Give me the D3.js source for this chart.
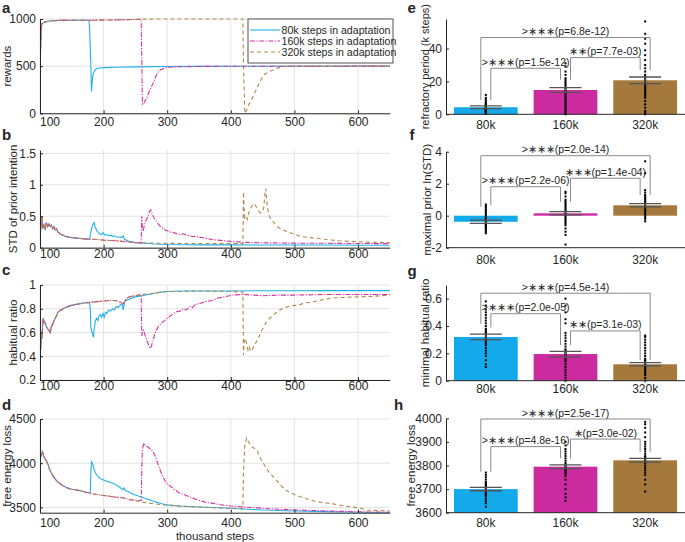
<!DOCTYPE html>
<html><head><meta charset="utf-8">
<script src="https://cdn.jsdelivr.net/npm/d3@7"></script>
<style>
body{margin:0;background:#fff;}
svg text{font-family:"Liberation Sans",Arial,sans-serif;fill:#262626;}
</style></head>
<body><svg id="c" width="685" height="542"></svg>
<script>
// ---------- DATA ----------
const stepTicks = [100,200,300,400,500,600];
const seriesNames = ["80k steps in adaptation","160k steps in adaptation","320k steps in adaptation"];
const groups = ["80k","160k","320k"];

// shared early part of each curve (thousand steps, value)
const rewardsStart = [[100,390],[101,700],[102,900],[103,950],[105,960],[108,968],[110,972],[115,978],[120,982],[130,985],[150,986],[170,987]];
const rewards80k = [[177,987],[178,900],[180,500],[181,229],[182,330],[183,400],[185,440],[187,465],[190,476],[195,480],[200,484],[220,488],[250,492],[300,496],[350,498],[400,499],[650,500]];
const rewards160k = [[200,988],[230,992],[250,995],[259,996],[260,600],[261,95],[263,105],[265,130],[268,165],[271,220],[275,280],[278,318],[282,390],[286,440],[289,459],[295,478],[300,488],[320,493],[350,497],[400,499],[650,500]];
const rewards320k = [[200,988],[230,992],[250,996],[270,999],[300,1000],[419,1000],[420,500],[422,0],[424,20],[427,70],[431,130],[435,176],[440,250],[444,310],[448,360],[451,406],[456,425],[461,445],[467,460],[472,475],[477,487],[482,495],[490,499],[500,500],[650,500]];

const stdStart = [[100,0.18],[101,0.3],[102,0.45],[103,0.5],[104,0.3],[106,0.36],[108,0.3],[110,0.4],[112,0.33],[114,0.38],[116,0.34],[118,0.36],[120,0.3],[122,0.33],[124,0.28],[126,0.3],[128,0.25],[130,0.24],[133,0.21],[136,0.2],[140,0.18],[145,0.17],[150,0.16],[160,0.15],[170,0.14]];
const std80k = [[178,0.135],[179,0.2],[181,0.3],[183,0.36],[185,0.4],[187,0.32],[190,0.26],[194,0.22],[197,0.21],[199,0.24],[202,0.2],[205,0.21],[208,0.19],[211,0.2],[214,0.18],[217,0.19],[220,0.17],[224,0.17],[228,0.16],[231,0.19],[233,0.13],[236,0.12],[240,0.1],[246,0.09],[250,0.08],[260,0.07],[268,0.07],[280,0.06],[300,0.05],[350,0.045],[400,0.045],[500,0.042],[650,0.04]];
const std160k = [[180,0.135],[190,0.13],[200,0.12],[210,0.115],[220,0.11],[230,0.1],[240,0.09],[250,0.08],[259,0.075],[260,0.5],[261,0.3],[262,0.26],[264,0.35],[266,0.42],[268,0.46],[270,0.5],[272,0.57],[274,0.6],[276,0.55],[278,0.5],[280,0.46],[283,0.42],[286,0.38],[290,0.33],[295,0.29],[300,0.27],[305,0.25],[310,0.24],[315,0.22],[320,0.21],[325,0.22],[330,0.2],[340,0.18],[350,0.17],[360,0.15],[370,0.13],[380,0.12],[390,0.11],[400,0.1],[420,0.085],[450,0.078],[500,0.072],[550,0.07],[600,0.066],[650,0.065]];
const std320k = [[180,0.135],[190,0.13],[200,0.12],[210,0.115],[220,0.11],[230,0.1],[240,0.09],[250,0.08],[270,0.075],[300,0.07],[350,0.065],[400,0.065],[419,0.065],[420,0.89],[421,0.6],[422,0.47],[424,0.5],[426,0.45],[428,0.55],[430,0.6],[433,0.66],[436,0.7],[438,0.68],[441,0.64],[444,0.58],[447,0.55],[450,0.58],[452,0.65],[454,0.9],[455,0.94],[456,0.8],[458,0.62],[460,0.52],[463,0.45],[467,0.41],[470,0.37],[475,0.32],[480,0.29],[485,0.27],[493,0.24],[500,0.21],[510,0.18],[520,0.165],[535,0.15],[550,0.13],[570,0.11],[587,0.1],[610,0.09],[630,0.085],[650,0.08]];

const habitStart = [[100,0.52],[101,0.45],[102,0.6],[103,0.55],[104,0.65],[105,0.72],[106,0.7],[108,0.68],[110,0.65],[112,0.63],[114,0.62],[116,0.6],[118,0.65],[120,0.67],[122,0.7],[124,0.72],[126,0.74],[128,0.77],[130,0.78],[133,0.79],[136,0.8],[140,0.81],[145,0.82],[150,0.83],[155,0.835],[160,0.84],[165,0.845],[170,0.85],[175,0.85]];
const habit80k = [[178,0.855],[179,0.8],[180,0.64],[182,0.6],[184,0.56],[185,0.62],[187,0.7],[189,0.72],[191,0.7],[193,0.74],[195,0.75],[197,0.73],[199,0.76],[201,0.73],[203,0.77],[205,0.76],[208,0.79],[211,0.78],[214,0.8],[217,0.79],[220,0.82],[223,0.81],[226,0.83],[229,0.84],[231,0.79],[233,0.86],[236,0.87],[240,0.88],[245,0.89],[250,0.9],[260,0.91],[270,0.92],[280,0.93],[290,0.94],[300,0.945],[320,0.95],[350,0.95],[400,0.95],[450,0.952],[500,0.952],[550,0.953],[650,0.953]];
const habit160k = [[180,0.855],[190,0.86],[200,0.865],[210,0.87],[220,0.868],[225,0.86],[228,0.85],[231,0.84],[234,0.87],[237,0.89],[240,0.9],[245,0.905],[250,0.91],[255,0.915],[259,0.92],[260,0.57],[261,0.6],[263,0.62],[265,0.58],[267,0.55],[269,0.52],[271,0.49],[273,0.466],[275,0.48],[277,0.52],[279,0.56],[281,0.6],[283,0.62],[286,0.65],[290,0.67],[293,0.69],[296,0.7],[300,0.72],[305,0.74],[310,0.76],[315,0.775],[320,0.78],[325,0.8],[330,0.79],[336,0.82],[340,0.81],[345,0.84],[350,0.84],[360,0.86],[370,0.87],[380,0.89],[390,0.9],[403,0.916],[420,0.92],[450,0.91],[480,0.915],[500,0.915],[550,0.92],[600,0.92],[650,0.92]];
const habit320k = [[180,0.855],[190,0.86],[200,0.865],[210,0.87],[220,0.868],[225,0.86],[228,0.85],[231,0.84],[234,0.87],[237,0.89],[240,0.9],[250,0.91],[260,0.92],[270,0.925],[280,0.93],[290,0.94],[300,0.945],[320,0.945],[350,0.95],[400,0.945],[419,0.94],[420,0.41],[421,0.52],[423,0.55],[425,0.5],[427,0.45],[429,0.48],[431,0.44],[433,0.45],[435,0.47],[438,0.5],[441,0.53],[444,0.56],[447,0.6],[450,0.63],[453,0.66],[456,0.69],[461,0.72],[465,0.74],[470,0.76],[477,0.79],[485,0.81],[495,0.825],[504,0.83],[515,0.845],[525,0.855],[540,0.87],[556,0.888],[575,0.895],[600,0.9],[625,0.905],[650,0.915]];

const lossStart = [[100,4150],[101,4100],[102,4080],[103,4110],[104,4130],[105,4100],[107,4060],[109,4040],[111,4010],[113,3980],[115,3930],[118,3890],[121,3850],[124,3820],[127,3795],[131,3772],[135,3750],[140,3730],[145,3715],[150,3705],[158,3696],[165,3685],[172,3672],[178,3665]];
const loss80k = [[179,3660],[180,3900],[181,4017],[183,3990],[185,3930],[188,3880],[191,3850],[194,3828],[200,3810],[205,3795],[210,3785],[215,3772],[220,3750],[225,3730],[230,3700],[232,3720],[234,3690],[240,3675],[245,3655],[250,3640],[260,3615],[273,3583],[280,3565],[290,3545],[299,3528],[320,3515],[350,3505],[400,3490],[450,3470],[500,3460],[550,3452],[600,3445],[650,3438]];
const loss160k = [[180,3655],[190,3645],[200,3635],[210,3625],[220,3615],[230,3610],[235,3600],[240,3590],[250,3580],[259,3575],[260,3900],[261,4150],[263,4225],[266,4200],[270,4180],[275,4150],[278,4130],[281,4080],[285,4000],[290,3900],[295,3820],[299,3772],[305,3740],[310,3710],[315,3685],[320,3659],[325,3650],[330,3635],[340,3605],[352,3575],[360,3560],[370,3548],[380,3535],[390,3525],[400,3515],[420,3505],[440,3495],[460,3485],[480,3478],[500,3472],[550,3460],[600,3450],[650,3445]];
const loss320k = [[180,3655],[190,3645],[200,3635],[210,3625],[220,3615],[230,3610],[235,3600],[240,3590],[250,3575],[260,3560],[280,3540],[300,3525],[330,3510],[360,3500],[400,3490],[419,3485],[420,3900],[422,4200],[425,4285],[428,4240],[431,4200],[434,4180],[437,4170],[441,4149],[444,4100],[447,4050],[451,4000],[456,3942],[460,3900],[465,3860],[470,3820],[475,3780],[479,3745],[483,3715],[490,3680],[500,3645],[509,3620],[520,3595],[530,3575],[540,3560],[550,3550],[561,3540],[580,3515],[600,3495],[614,3470],[630,3465],[650,3460]];

// y tick values of the left panels
const rewardsTicks = [0,500,1000];
const stdTicks = [0,0.5,1,1.5];
const habitTicks = [0.2,0.4,0.6,0.8,1];
const lossTicks = [3500,4000,4500];

// bar panels: mean, sem, individual runs
const refractMean = [4.3,14.8,20.7], refractSem = [0.8,1.4,2.0];
const refract80k = [0.3,0.8,1.2,1.5,1.8,2,2.3,2.5,2.8,3,3.2,3.5,3.8,4,4.2,4.5,4.8,5,5.5,6,6.5,7,8,9,10,11.8];
const refract160k = [0,0.5,1,2,3,4,5,6,7,8,9,10,11,12,13,14,15,16,17,18,19,20,21,22,24,26,29,31];
const refract320k = [0,1,2,4,6,8,10,11,12,13,14,15,16,17,18,19,20,21,22,23,24,26,28,30,33,36,39,43,46,49,56.5];
const refractTicks = [0,20,40];
const refractSig = [">∗∗∗(p=1.5e-12)","∗∗(p=7.7e-03)",">∗∗∗(p=6.8e-12)"];

const priorMean = [-0.38,0.15,0.65], priorSem = [0.1,0.1,0.1];
const prior80k = [-1.1,-1.0,-0.9,-0.8,-0.75,-0.7,-0.6,-0.55,-0.5,-0.45,-0.4,-0.35,-0.3,-0.25,-0.2,-0.15,-0.1,0,0.1,0.2,0.3,0.4,0.5,0.6,0.7];
const prior160k = [-1.8,-1.2,-1.0,-0.8,-0.6,-0.5,-0.4,-0.3,-0.2,-0.1,0,0.1,0.2,0.3,0.4,0.5,0.6,0.7,0.8,0.9,1.0,1.2,1.4,1.5];
const prior320k = [-0.35,-0.2,-0.1,0,0.1,0.2,0.3,0.4,0.5,0.6,0.7,0.8,0.9,1.0,1.1,1.2,1.3,1.45,1.6,2.65,3.4];
const priorTicks = [-2,0,2,4];
const priorSig = [">∗∗∗(p=2.2e-06)","∗∗∗(p=1.4e-04)",">∗∗∗(p=2.0e-14)"];

const minHabitMean = [0.32,0.195,0.12], minHabitSem = [0.02,0.02,0.012];
const minHabit80k = [0.1,0.12,0.15,0.18,0.2,0.22,0.24,0.26,0.27,0.28,0.29,0.3,0.31,0.32,0.33,0.34,0.35,0.36,0.37,0.38,0.4,0.42,0.44,0.46,0.48,0.5,0.52,0.55,0.58];
const minHabit160k = [0,0.02,0.04,0.06,0.08,0.1,0.12,0.14,0.15,0.16,0.18,0.19,0.2,0.21,0.22,0.23,0.25,0.27,0.29,0.31,0.33,0.35,0.42,0.45,0.5,0.55,0.6];
const minHabit320k = [0,0.02,0.04,0.05,0.06,0.07,0.08,0.09,0.1,0.11,0.12,0.13,0.14,0.15,0.16,0.18,0.2,0.22,0.24,0.26,0.28,0.3,0.32,0.33];
const minHabitTicks = [0,0.2,0.4,0.6];
const minHabitSig = [">∗∗∗(p=2.0e-05)","∗∗(p=3.1e-03)",">∗∗∗(p=4.5e-14)"];

const felMean = [3700,3795,3822], felSem = [7,8,8];
const fel80k = [3625,3640,3650,3660,3670,3675,3680,3685,3690,3695,3700,3705,3710,3715,3720,3725,3730,3740,3750,3760,3770];
const fel160k = [3650,3665,3680,3700,3720,3740,3755,3765,3770,3775,3780,3785,3790,3795,3800,3805,3810,3820,3830,3840,3850,3860,3870,3885,3900];
const fel320k = [3690,3720,3740,3760,3770,3780,3790,3800,3810,3815,3820,3825,3830,3835,3840,3850,3860,3870,3880,3890,3900,3920,3940,3960,3975,3985];
const felTicks = [3600,3700,3800,3900,4000];
const felSig = [">∗∗∗(p=4.8e-16)","∗(p=3.0e-02)",">∗∗∗(p=2.5e-17)"];

// ---------- STYLE / LAYOUT ----------
const lineColors = ["#1fb1ef","#d6329f","#b3874a"];
const lineDash = [null,"5,1.5,1.2,1.5","4,3"];
const barColors = ["#14a9ea","#cb2b9f","#a5783b"];
const AX = "#262626", GRID = "#e3e3e3", BR = "#8a8a8a";
const svg = d3.select("#c");
const x = d3.scaleLinear().domain([100,650]).range([40,389.8]);

const leftPanels = [
  {letter:"a", ly:13, top:19, bottom:113.3, domain:[0,1000], ticks:rewardsTicks, label:"rewards", labX:7,
   start:rewardsStart, series:[rewards80k,rewards160k,rewards320k], xl:126.5},
  {letter:"b", ly:140, top:150.2, bottom:247.7, domain:[0,1.55], ticks:stdTicks, label:"STD of prior intention", labX:13,
   start:stdStart, series:[std80k,std160k,std320k], xl:258},
  {letter:"c", ly:275, top:285, bottom:380, domain:[0.2,1], ticks:habitTicks, label:"habitual ratio", labX:13,
   start:habitStart, series:[habit80k,habit160k,habit320k], xl:389.5},
  {letter:"d", ly:410, top:419, bottom:512.7, domain:[3440,4500], ticks:lossTicks, label:"free energy loss", labX:7,
   start:lossStart, series:[loss80k,loss160k,loss320k], xl:527}
];

leftPanels.forEach((p,pi)=>{
  const y = d3.scaleLinear().domain(p.domain).range([p.bottom,p.top]);
  const g = svg.append("g");
  // grid
  g.selectAll(".gx").data(stepTicks).join("line").attr("x1",d=>x(d)).attr("x2",d=>x(d))
    .attr("y1",p.top).attr("y2",p.bottom).attr("stroke",GRID).attr("stroke-width",1);
  g.selectAll(".gy").data(p.ticks).join("line").attr("x1",x.range()[0]).attr("x2",x.range()[1])
    .attr("y1",d=>y(d)).attr("y2",d=>y(d)).attr("stroke",GRID).attr("stroke-width",1);
  // clip
  const cid = "clip"+pi;
  svg.append("clipPath").attr("id",cid).append("rect").attr("x",40).attr("y",p.top-2)
    .attr("width",350).attr("height",p.bottom-p.top+2);
  const line = d3.line().x(d=>x(d[0])).y(d=>y(d[1]));
  p.series.forEach((s,i)=>{
    const pts = p.start.concat(s);
    g.append("path").attr("d",line(pts)).attr("fill","none").attr("stroke",lineColors[i])
      .attr("stroke-width",1.1).attr("stroke-dasharray",lineDash[i]).attr("clip-path",`url(#${cid})`);
  });
  // axes
  const ya = d3.axisLeft(y).tickValues(p.ticks).tickSizeInner(-3).tickSizeOuter(0).tickPadding(4).tickFormat(d=>String(d));
  const gy = g.append("g").attr("transform","translate(40,0)").call(ya);
  const xa = d3.axisBottom(x).tickValues(stepTicks).tickSizeInner(-3).tickSizeOuter(0).tickPadding(5).tickFormat(d=>String(d));
  const gx = g.append("g").attr("transform",`translate(0,${p.bottom})`).call(xa);
  [gy,gx].forEach(a=>{a.selectAll("path,line").attr("stroke",AX);a.selectAll("text").attr("font-size",12).attr("fill",AX)
     .style("font-family","'Liberation Sans',Arial,sans-serif");});
  gx.selectAll(".tick text").attr("y",p.xl-p.bottom).attr("dy",0);
  // the first label sits just right of the axis corner, as in the reference
  gx.selectAll(".tick text").filter(d=>d===stepTicks[0]).attr("text-anchor","start").attr("x",-0.5);
  // y label
  svg.append("text").attr("transform",`translate(${p.labX},${(p.top+p.bottom)/2}) rotate(-90)`)
    .attr("text-anchor","middle").attr("dominant-baseline","central").attr("font-size",11.5).text(p.label);
  svg.append("text").attr("x",2).attr("y",p.ly).attr("font-size",15).attr("font-weight","bold").text(p.letter);
});
svg.append("text").attr("x",(40+389.8)/2).attr("y",540).attr("text-anchor","middle").attr("font-size",11.5).text("thousand steps");

// legend
const lg = svg.append("g");
lg.append("rect").attr("x",248).attr("y",19).attr("width",145).attr("height",44).attr("fill","#fff").attr("stroke",AX).attr("stroke-width",0.8);
seriesNames.forEach((n,i)=>{
  const yy = 30 + i*11;
  lg.append("line").attr("x1",250).attr("x2",280).attr("y1",yy).attr("y2",yy).attr("stroke",lineColors[i])
    .attr("stroke-width",1.1).attr("stroke-dasharray",lineDash[i]);
  lg.append("text").attr("x",281.5).attr("y",yy).attr("dominant-baseline","central").attr("font-size",10.6).text(n);
});

// ---------- BAR PANELS ----------
const xb = d3.scaleBand().domain(groups).range([446,685]).paddingInner(0.2).paddingOuter(0.1);
const rightPanels = [
  {letter:"e", ly:13, top:19, bottom:114.3, domain:[0,58], ticks:refractTicks, label:"refractory period (k steps)", labX:424.5, lfs:11,
   mean:refractMean, sem:refractSem, dots:[refract80k,refract160k,refract320k], sig:refractSig, xl:129,
   br:[{a:0,b:1,y:28,l:8.7,r:21},{a:1,b:2,y:34.5,l:21,r:27},{a:0,b:2,y:46.7,l:8.7,r:27}]},
  {letter:"f", ly:140, top:151.7, bottom:247.7, domain:[-2,4], ticks:priorTicks, label:"maximal prior ln(STD)", labX:426.5, lfs:11.5,
   mean:priorMean, sem:priorSem, dots:[prior80k,prior160k,prior320k], sig:priorSig, xl:264,
   br:[{a:0,b:1,y:1.81,l:0.67,r:0.875},{a:1,b:2,y:2.34,l:0.875,r:1.29},{a:0,b:2,y:3.75,l:0.56,r:1.29}]},
  {letter:"g", ly:276, top:285, bottom:380.7, domain:[0,0.7], ticks:minHabitTicks, label:"minimal habitual ratio", labX:424.5, lfs:11.5,
   mean:minHabitMean, sem:minHabitSem, dots:[minHabit80k,minHabit160k,minHabit320k], sig:minHabitSig, xl:393,
   br:[{a:0,b:1,y:0.49,l:0.39,r:0.26},{a:1,b:2,y:0.364,l:0.26,r:0.15},{a:0,b:2,y:0.64,l:0.417,r:0.15}]},
  {letter:"h", ly:410, top:418.3, bottom:512.7, domain:[3600,4000], ticks:felTicks, label:"free energy loss", labX:411, lfs:11.5,
   mean:felMean, sem:felSem, dots:[fel80k,fel160k,fel320k], sig:felSig, xl:527,
   br:[{a:0,b:1,y:3880,l:3774,r:3830},{a:1,b:2,y:3912,l:3830,r:3858},{a:0,b:2,y:3997,l:3774,r:3858}]}
];

rightPanels.forEach(p=>{
  const y = d3.scaleLinear().domain(p.domain).range([p.bottom,p.top]);
  const g = svg.append("g");
  const base = p.domain[0] < 0 ? 0 : p.domain[0];
  // bars
  g.selectAll(".bar").data(p.mean).join("rect")
    .attr("x",(d,i)=>xb(groups[i])).attr("width",xb.bandwidth())
    .attr("y",d=>Math.min(y(d),y(base))).attr("height",d=>Math.abs(y(d)-y(base)))
    .attr("fill",(d,i)=>barColors[i]);
  // dots
  p.dots.forEach((arr,i)=>{
    const cx = xb(groups[i]) + xb.bandwidth()/2;
    g.selectAll(null).data(arr).join("rect").attr("x",cx-1).attr("y",d=>y(d)-1).attr("width",2).attr("height",2).attr("fill","#000");
  });
  // error bars
  p.mean.forEach((m,i)=>{
    const cx = xb(groups[i]) + xb.bandwidth()/2;
    [m+p.sem[i], m-p.sem[i]].forEach(v=>{
      g.append("line").attr("x1",cx-16).attr("x2",cx+16).attr("y1",y(v)).attr("y2",y(v)).attr("stroke","#555").attr("stroke-width",1.3);
    });
    g.append("line").attr("x1",cx).attr("x2",cx).attr("y1",y(m+p.sem[i])).attr("y2",y(m-p.sem[i])).attr("stroke","#555").attr("stroke-width",1.3);
  });
  // significance brackets
  p.br.forEach((b,k)=>{
    const ca = xb(groups[b.a]) + xb.bandwidth()/2, cb = xb(groups[b.b]) + xb.bandwidth()/2;
    const x1 = b.a===0 && b.b===2 ? ca-5 : ca+5;
    const x2 = b.a===0 && b.b===2 ? cb+5 : cb-5;
    g.append("path").attr("d",`M${x1},${y(b.l)}V${y(b.y)}H${x2}V${y(b.r)}`).attr("fill","none").attr("stroke",BR).attr("stroke-width",1);
    g.append("text").attr("x",(x1+x2)/2).attr("y",y(b.y)-2.5).attr("text-anchor","middle").attr("font-size",10.5).text(p.sig[k]);
  });
  // axes
  const ya = d3.axisLeft(y).tickValues(p.ticks).tickSizeInner(-3).tickSizeOuter(0).tickPadding(4).tickFormat(d=>String(d));
  const gy = g.append("g").attr("transform","translate(446,0)").call(ya);
  g.append("line").attr("x1",446).attr("x2",685).attr("y1",p.bottom).attr("y2",p.bottom).attr("stroke",AX).attr("stroke-width",1);
  gy.selectAll("path,line").attr("stroke",AX);
  gy.selectAll("text").attr("font-size",12).attr("fill",AX).style("font-family","'Liberation Sans',Arial,sans-serif");
  groups.forEach((gname,i)=>{
    svg.append("text").attr("x",xb(gname)+xb.bandwidth()/2).attr("y",p.xl).attr("text-anchor","middle").attr("font-size",12).text(gname);
  });
  svg.append("text").attr("transform",`translate(${p.labX},${(p.top+p.bottom)/2}) rotate(-90)`)
    .attr("text-anchor","middle").attr("dominant-baseline","central").attr("font-size",p.lfs).text(p.label);
  svg.append("text").attr("x",p.labX-17).attr("y",p.ly).attr("font-size",15).attr("font-weight","bold").text(p.letter);
});
</script>
</body></html>
